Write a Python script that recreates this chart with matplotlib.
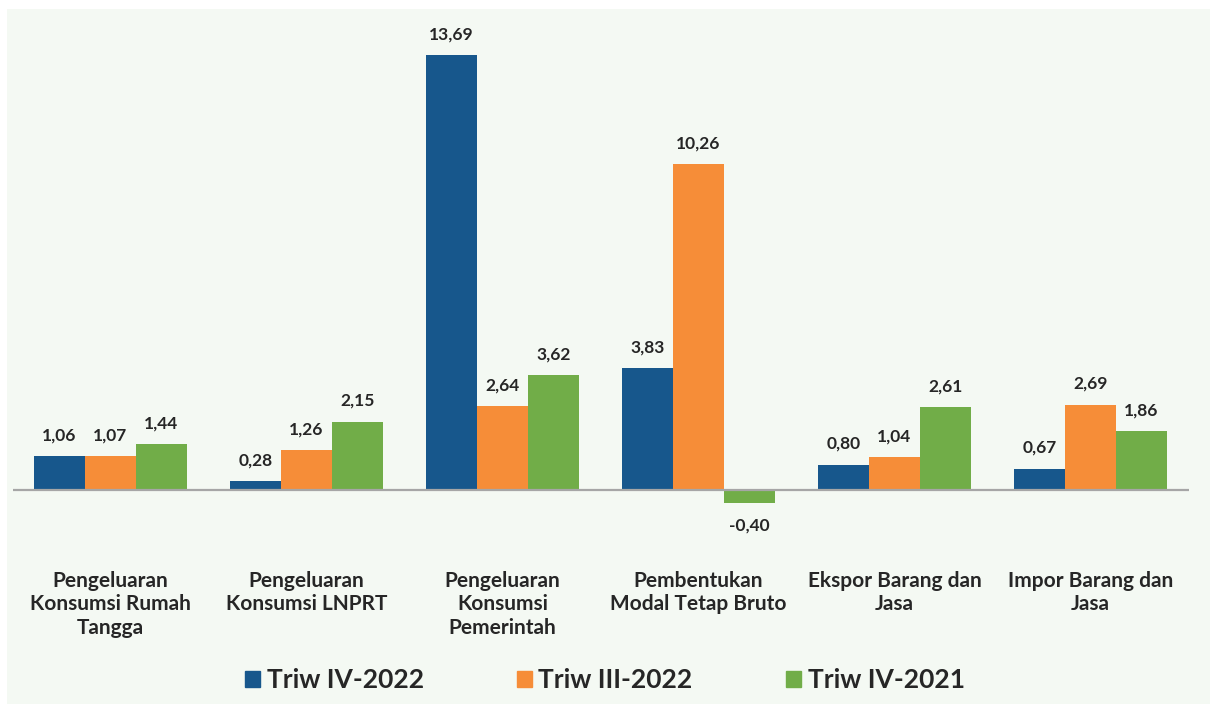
import matplotlib
matplotlib.use("Agg")
import matplotlib.pyplot as plt
import numpy as np
from matplotlib.patches import Rectangle

categories = [
    "Pengeluaran\nKonsumsi Rumah\nTangga",
    "Pengeluaran\nKonsumsi LNPRT",
    "Pengeluaran\nKonsumsi\nPemerintah",
    "Pembentukan\nModal Tetap Bruto",
    "Ekspor Barang dan\nJasa",
    "Impor Barang dan\nJasa",
]
series_names = ["Triw IV-2022", "Triw III-2022", "Triw IV-2021"]
triw_iv_2022 = [1.06, 0.28, 13.69, 3.83, 0.80, 0.67]
triw_iii_2022 = [1.07, 1.26, 2.64, 10.26, 1.04, 2.69]
triw_iv_2021 = [1.44, 2.15, 3.62, -0.40, 2.61, 1.86]
colors = ["#17578C", "#F68D38", "#71AD48"]

W, H = 1210, 704
fig = plt.figure(figsize=(W / 100, H / 100), dpi=100, facecolor="white")

# light panel behind the chart
fig.patches.append(Rectangle((7 / W, 0), 1 - 7 / W, 1 - 9 / H,
                             transform=fig.transFigure, facecolor="#F4F9F3",
                             edgecolor="none", zorder=-5))

ax_left, ax_right = 12.5, 1188.5
ax_top, ax_bottom = 20, 565
ax = fig.add_axes([ax_left / W, 1 - ax_bottom / H,
                   (ax_right - ax_left) / W, (ax_bottom - ax_top) / H])
ax.set_facecolor("none")
ax.set_zorder(2)

px_per_unit = 31.78
zero_y = 490
ax.set_xlim(-0.5, len(categories) - 0.5)
ax.set_ylim(-(ax_bottom - zero_y) / px_per_unit, (zero_y - ax_top) / px_per_unit)

x = np.arange(len(categories))
bw = 0.26
all_series = [triw_iv_2022, triw_iii_2022, triw_iv_2021]
for i, (vals, name, c) in enumerate(zip(all_series, series_names, colors)):
    pos = x + (i - 1) * bw
    ax.bar(pos, vals, width=bw, color=c, label=name, zorder=2,
           edgecolor="none")
    for xp, v in zip(pos, vals):
        off = 15 if v >= 0 else -16.5
        ax.annotate(f"{v:.2f}".replace(".", ","), (xp, v),
                    xytext=(0, off), textcoords="offset points",
                    ha="center", va="center", fontsize=12.5,
                    fontfamily="Lato", fontweight="bold", color="#262626")

ax.axhline(0, color="#A6A6A6", lw=1.6, zorder=3)

for s in ax.spines.values():
    s.set_visible(False)
ax.set_yticks([])
ax.set_xticks(x)
ax.set_xticklabels(categories, fontsize=15, fontfamily="Lato",
                   fontweight="bold", color="#262626", linespacing=1.2)
ax.tick_params(axis="x", length=0, pad=4.5)

handles = [Rectangle((0, 0), 1, 1, color=c) for c in colors]
leg = fig.legend(handles, series_names, loc="center", ncol=3,
                 bbox_to_anchor=(0.5, 1 - 680 / H), frameon=False,
                 prop={"family": "Lato", "weight": "bold", "size": 19},
                 handlelength=0.55, handleheight=0.55, handletextpad=0.25,
                 columnspacing=3.55, labelcolor="#262626")
leg.set_zorder(3)

fig.savefig("out.png", dpi=100, facecolor="white")
